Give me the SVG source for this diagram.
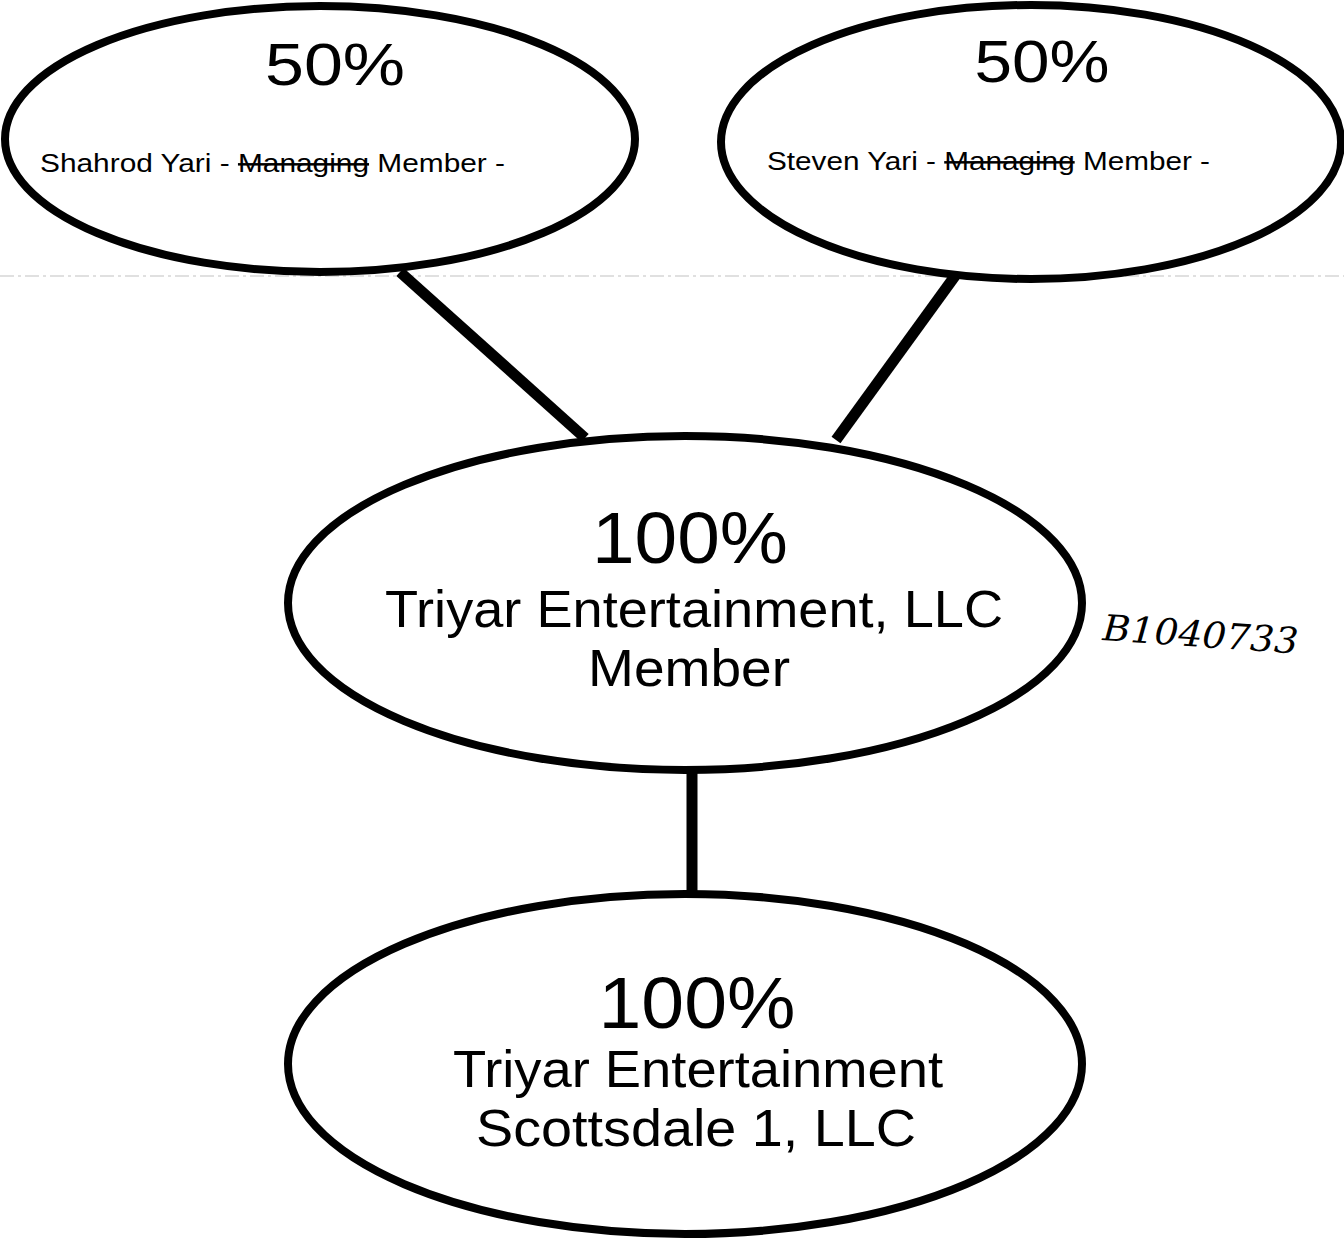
<svg xmlns="http://www.w3.org/2000/svg" width="1344" height="1238" viewBox="0 0 1344 1238">
<style>
.node{fill:#fff;stroke:#000;stroke-width:8}
.conn{stroke:#000;stroke-width:11;stroke-linecap:butt;fill:none}
text{font-family:"Liberation Sans",Arial,sans-serif;fill:#000}
.pct{font-size:60px;text-anchor:middle}
.big{font-size:72px;text-anchor:middle}
.lbl{font-size:52px;text-anchor:middle}
.small{font-size:25px}
.strike{text-decoration:line-through}
</style>
<rect width="1344" height="1238" fill="#fff"/>
<line x1="0" y1="276" x2="1344" y2="276" stroke="#999" stroke-width="1" stroke-dasharray="14 4 3 4" opacity="0.6"/>
<g id="connectors">
<line class="conn" x1="400" y1="272" x2="585" y2="438"/>
<line class="conn" x1="955" y1="276" x2="836" y2="440"/>
<line class="conn" x1="692" y1="770" x2="692" y2="896"/>
</g>
<g id="shahrod">
<ellipse class="node" cx="320" cy="139" rx="315" ry="133"/>
<text class="pct" x="335" y="85" textLength="140" lengthAdjust="spacingAndGlyphs">50%</text>
<text class="small" x="40" y="172" textLength="465" lengthAdjust="spacingAndGlyphs">Shahrod Yari - <tspan class="strike">Managing</tspan> Member -</text>
</g>
<g id="steven">
<ellipse class="node" cx="1031" cy="142" rx="310" ry="137"/>
<text class="pct" x="1042" y="82" textLength="135" lengthAdjust="spacingAndGlyphs">50%</text>
<text class="small" x="767" y="170" textLength="443" lengthAdjust="spacingAndGlyphs">Steven Yari - <tspan class="strike">Managing</tspan> Member -</text>
</g>
<g id="triyar">
<ellipse class="node" cx="685" cy="603" rx="397" ry="167"/>
<text class="big" x="690" y="563" textLength="196" lengthAdjust="spacingAndGlyphs">100%</text>
<text class="lbl" x="694" y="627" textLength="618" lengthAdjust="spacingAndGlyphs">Triyar Entertainment, LLC</text>
<text class="lbl" x="689" y="686" textLength="202" lengthAdjust="spacingAndGlyphs">Member</text>
</g>
<g id="scottsdale">
<ellipse class="node" cx="685" cy="1064" rx="397" ry="170"/>
<text class="big" x="697" y="1028" textLength="197" lengthAdjust="spacingAndGlyphs">100%</text>
<text class="lbl" x="698" y="1087" textLength="490" lengthAdjust="spacingAndGlyphs">Triyar Entertainment</text>
<text class="lbl" x="696" y="1146" textLength="440" lengthAdjust="spacingAndGlyphs">Scottsdale 1, LLC</text>
</g>
<text x="1102" y="640" font-style="italic" font-size="36" textLength="196" lengthAdjust="spacingAndGlyphs" transform="rotate(4 1102 640)" style="font-family:'DejaVu Serif',serif">B1040733</text>
</svg>
